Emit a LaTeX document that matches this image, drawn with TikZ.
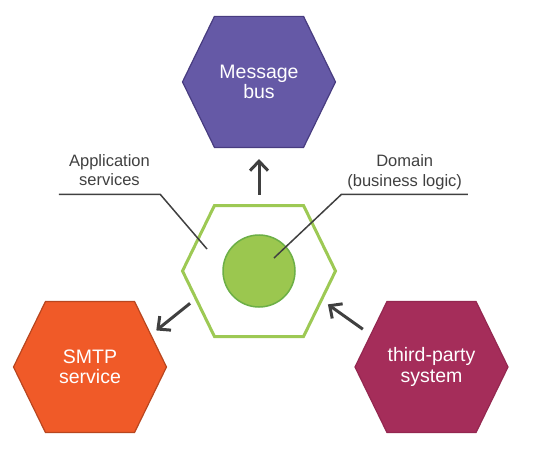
\documentclass[tikz,border=0pt]{standalone}
\usepackage{fontspec}
\setmainfont{Liberation Sans}
\usetikzlibrary{arrows.meta,positioning,shapes.symbols}

\definecolor{busfill}{HTML}{6559A6}
\definecolor{busedge}{HTML}{483C80}
\definecolor{smtpfill}{HTML}{F05A28}
\definecolor{smtpedge}{HTML}{B8461F}
\definecolor{thirdfill}{HTML}{A52D5A}
\definecolor{thirdedge}{HTML}{942750}
\definecolor{appgreen}{HTML}{9DC954}
\definecolor{domgreen}{HTML}{9BC74F}
\definecolor{domedge}{HTML}{6CAF46}
\definecolor{notegray}{HTML}{404040}

\begin{document}
\begin{tikzpicture}[
  x=1pt, y=-1pt,
  hexa/.style={signal, signal to=west and east, signal pointer angle=128, minimum width=153pt, minimum height=131pt, inner sep=0pt, align=center, text=white, font=\fontsize{19.5}{20.5}\selectfont, line width=1.2pt},
  note/.style={align=center, text=notegray, font=\fontsize{16.5}{19.3}\selectfont, inner xsep=0pt, anchor=south},
  arrow/.style={-{Straight Barb[length=9.5pt,width=18pt]}, line width=3pt, draw=notegray},
  leader/.style={draw=notegray, line width=1.5pt}
]
\useasboundingbox (0,0) rectangle (536,452);
\node[hexa, draw=appgreen, fill=white, line width=3pt] (app) at (259,271) {};
\node[circle, fill=domgreen, draw=domedge, line width=1.5pt, minimum size=72pt] (dom) at (app) {};
\node[hexa, fill=busfill, draw=busedge, above=56pt of app] (bus) {Message\\bus};
\node[hexa, fill=smtpfill, draw=smtpedge] (smtp) at (90,367) {SMTP\\service};
\node[hexa, fill=thirdfill, draw=thirdedge] (third) at (431.5,367) {third-party\\system};

% labels with leader lines
\coordinate (svcend) at (207,249);
\coordinate (domend) at (274,258);
\node[note, minimum width=101pt, inner ysep=8pt] (svc) at (109.5,194.3) {Application\\services};
\node[note, minimum width=126pt, inner ysep=4.5pt] (domlbl) at (404.7,194.3) {Domain\\(business logic)};
\draw[leader] (svc.south west) -- (svc.south east) -- (svcend);
\draw[leader] (domlbl.south east) -- (domlbl.south west) -- (domend);

% arrows
\draw[arrow, shorten <=9.5pt, shorten >=11pt] (app.north) -- (bus.south);
\draw[arrow, shorten <=6pt, shorten >=6.4pt] (app.204) -- (smtp.28);
\draw[arrow, shorten <=9pt, shorten >=6.4pt] (third.152.5) -- (app.335.5);
\end{tikzpicture}
\end{document}
